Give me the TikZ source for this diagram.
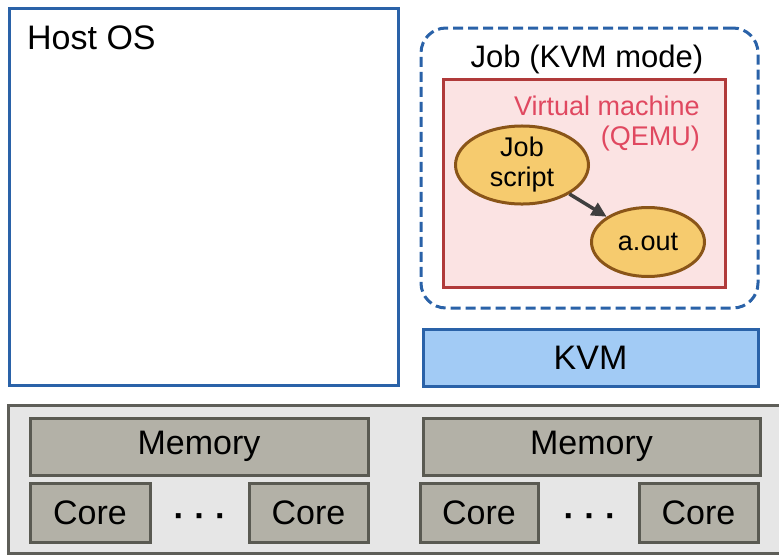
\documentclass[tikz,border=0pt]{standalone}
\usepackage{fontspec}
\setmainfont{Liberation Sans}
\usepackage{xcolor}
\usepackage{tikz}
\usetikzlibrary{shapes.geometric, arrows.meta}
\definecolor{hostblue}{HTML}{2A62A8}
\definecolor{kvmfill}{HTML}{A2CBF5}
\definecolor{vmfill}{HTML}{FBE3E3}
\definecolor{vmdraw}{HTML}{B03A3A}
\definecolor{vmtext}{HTML}{E04860}
\definecolor{procfill}{HTML}{F6CB6E}
\definecolor{procdraw}{HTML}{8A5518}
\definecolor{hwfill}{HTML}{E6E6E6}
\definecolor{hwdraw}{HTML}{5E5E58}
\definecolor{partfill}{HTML}{B3B1A7}
\definecolor{partdraw}{HTML}{5A5A52}
\definecolor{arrowgray}{HTML}{3F3F3F}
\newcommand{\bigfont}{\fontsize{34}{40}\selectfont}
\newcommand{\midfont}{\fontsize{31}{36}\selectfont}
\newcommand{\smallfont}{\fontsize{27}{31}\selectfont}
\tikzstyle{hostbox} = [rectangle, draw=hostblue, fill=white, line width=3pt, inner sep=0pt]
\tikzstyle{jobbox} = [rectangle, rounded corners=25pt, draw=hostblue, line width=3pt, dash pattern=on 10pt off 5pt, inner sep=0pt]
\tikzstyle{vmbox} = [rectangle, draw=vmdraw, fill=vmfill, line width=3pt, inner sep=0pt]
\tikzstyle{proc} = [ellipse, draw=procdraw, fill=procfill, line width=3pt, inner sep=0pt, text centered, font=\smallfont]
\tikzstyle{kvmbox} = [rectangle, draw=hostblue, fill=kvmfill, line width=3pt, inner sep=0pt, font=\bigfont]
\tikzstyle{hwbox} = [rectangle, draw=hwdraw, fill=hwfill, line width=3pt, inner sep=0pt]
\tikzstyle{part} = [rectangle, draw=partdraw, fill=partfill, line width=3pt, inner sep=0pt, font=\bigfont]
\tikzset{arw/.style={-{Triangle[length=15pt,width=14pt]}, line width=3.5pt, draw=arrowgray, fill=arrowgray}}

\begin{document}
\begin{tikzpicture}[x=1pt, y=-1pt]
			\clip (0,0) rectangle (779,555);
			\fill[white] (0,0) rectangle (779,555);
			% host side
			\node (host) [hostbox, minimum width=389pt, minimum height=377pt] at (203.5,196.5) {};
			\node (hostlbl) [anchor=base west, inner sep=0pt, font=\bigfont] at (27,49) {Host OS};
			% job in KVM mode
			\node (job) [jobbox, minimum width=337pt, minimum height=280pt] at (589.5,168) {};
			\node (joblbl) [anchor=base, inner sep=0pt, font=\midfont] at (587,67) {Job (KVM mode)};
			\node (vm) [vmbox, minimum width=282pt, minimum height=208pt] at (584,183) {};
			\node (vmlbl) [anchor=base east, inner sep=0pt, font=\smallfont, text=vmtext] at (700,115) {Virtual machine};
			\node (qemu) [anchor=base east, inner sep=0pt, font=\smallfont, text=vmtext] at (700,145) {(QEMU)};
			\node (script) [proc, minimum width=133pt, minimum height=63pt, align=center] at (522,165) {Job\\[-1pt]script};
			\node (aout) [proc, minimum width=113pt, minimum height=69pt] at (648,242) {a.out};
			\node (kvm) [kvmbox, minimum width=335pt, minimum height=57pt] at (590.5,357.5) {KVM};
			% hardware
			\node (hw) [hwbox, minimum width=787pt, minimum height=148pt] at (401.5,479) {};
			\node (mem1) [part, minimum width=338pt, minimum height=57pt] at (199,446.5) {Memory};
			\node (mem2) [part, minimum width=337pt, minimum height=57pt] at (591.5,446.5) {Memory};
			\node (core1) [part, minimum width=120pt, minimum height=59pt] at (90,512.5) {Core};
			\node (core2) [part, minimum width=119pt, minimum height=59pt] at (308.5,512.5) {Core};
			\node (core3) [part, minimum width=118pt, minimum height=59pt] at (479,512.5) {Core};
			\node (core4) [part, minimum width=119pt, minimum height=59pt] at (698.5,512.5) {Core};
			\node (dots1) [font=\bigfont\bfseries, inner sep=0pt] at (200,521) {· · ·};
			\node (dots2) [font=\bigfont\bfseries, inner sep=0pt] at (590,521) {· · ·};
			
			\draw [arw] (script) -- (aout);
\end{tikzpicture}
\end{document}
